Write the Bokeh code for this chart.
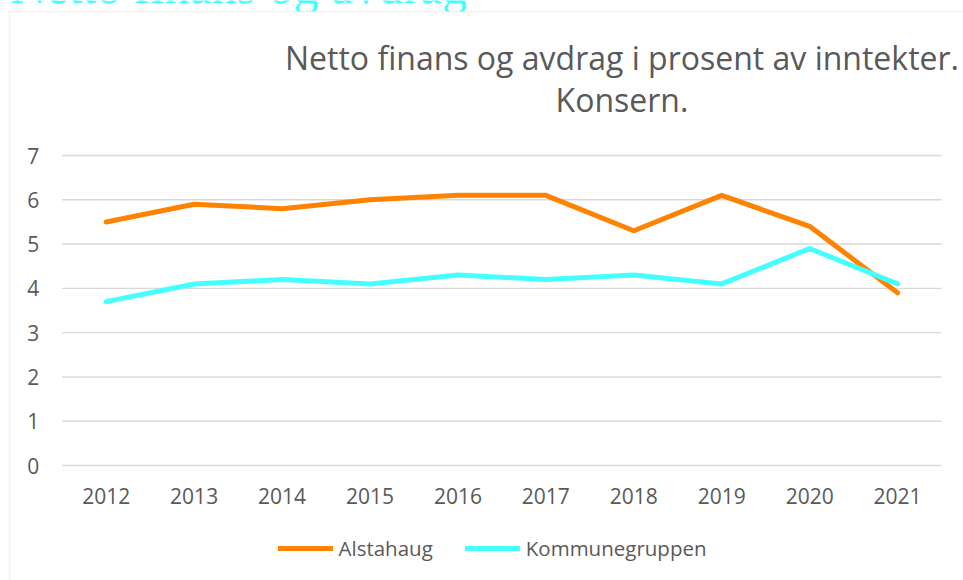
from bokeh.plotting import figure
from bokeh.models import Range1d, FixedTicker, Label, Legend, LegendItem, BoxAnnotation
from bokeh.embed import file_html
from bokeh.resources import INLINE

years = [2012, 2013, 2014, 2015, 2016, 2017, 2018, 2019, 2020, 2021]
alstahaug = [5.5, 5.9, 5.8, 6.0, 6.1, 6.1, 5.3, 6.1, 5.4, 3.9]
kommunegruppen = [3.7, 4.1, 4.2, 4.1, 4.3, 4.2, 4.3, 4.1, 4.9, 4.1]
y_ticks = [0, 1, 2, 3, 4, 5, 6, 7]
title_lines = ["Netto finans og avdrag i prosent av inntekter.", "Konsern."]
heading = "Netto finans og avdrag"

ORANGE = "#FF8200"
CYAN = "#45FFFF"
GREY_TEXT = "#595959"
GRID = "#D9D9D9"
FONT = "Open Sans"

W, H = 963, 580
ZERO_PX = 465      # pixel row of value 0
PX_Y = 44.2857     # pixels per unit
PX_X = 87.93       # pixels per year
X0_PX = 105.7      # pixel column of first year

# the frame covers the whole canvas; axes are pinned to the plot-area edges
y_range = Range1d(-(H - ZERO_PX) / PX_Y, ZERO_PX / PX_Y)
x_range = Range1d(years[0] - X0_PX / PX_X, years[0] + (W - X0_PX) / PX_X)

p = figure(width=W, height=H, output_backend="svg", toolbar_location=None,
           x_range=x_range, y_range=y_range,
           min_border_left=0, min_border_right=0, min_border_top=0, min_border_bottom=0)
p.outline_line_color = None
p.background_fill_color = "white"
p.border_fill_color = "white"
p.xgrid.visible = False
p.ygrid.visible = False

for ax in (p.xaxis[0], p.yaxis[0]):
    ax.axis_line_color = None
    ax.major_tick_line_color = None
    ax.minor_tick_line_color = None
    ax.major_tick_out = 0
    ax.major_tick_in = 0
    ax.minor_tick_out = 0
    ax.major_label_text_font = FONT
    ax.major_label_text_font_size = "21px"
    ax.major_label_text_color = GREY_TEXT
p.xaxis.ticker = FixedTicker(ticks=years)
p.xaxis.fixed_location = y_ticks[0]
p.xaxis.major_label_standoff = 22
p.yaxis.ticker = FixedTicker(ticks=y_ticks)
p.yaxis.fixed_location = years[0] - 0.5
p.yaxis.major_label_standoff = 23

# cut-off heading above the chart, covered by the chart area from y=11 down
p.add_layout(Label(x=10, y=H + 15, x_units="screen", y_units="screen", text=heading,
                   text_align="left", text_baseline="alphabetic", text_font="Liberation Serif",
                   text_font_size="50px", text_color="#40FFFF", level="underlay"))
p.add_layout(BoxAnnotation(left=9, right=3000, top=H - 11, bottom=-200,
                           left_units="screen", right_units="screen",
                           top_units="screen", bottom_units="screen",
                           fill_color="white", fill_alpha=1, line_color=GRID, line_width=2,
                           level="underlay"))

# horizontal gridlines spanning the category area
gx0 = [years[0] - 0.5] * len(y_ticks)
gx1 = [years[-1] + 0.5] * len(y_ticks)
p.segment(x0=gx0, y0=y_ticks, x1=gx1, y1=y_ticks, line_color=GRID, line_width=1.4)

r1 = p.line(years, alstahaug, line_color=ORANGE, line_width=5, line_cap="round", line_join="round")
r2 = p.line(years, kommunegruppen, line_color=CYAN, line_width=5, line_cap="round", line_join="round")

# title (two centred lines)
p.add_layout(Label(x=621.5, y=H - 57, x_units="screen", y_units="screen", text=title_lines[0],
                   text_align="center", text_baseline="alphabetic", text_font=FONT,
                   text_font_size="32px", text_color=GREY_TEXT))
p.add_layout(Label(x=621.5, y=H - 99, x_units="screen", y_units="screen", text=title_lines[1],
                   text_align="center", text_baseline="alphabetic", text_font=FONT,
                   text_font_size="32px", text_color=GREY_TEXT))

legend = Legend(items=[LegendItem(label="Alstahaug", renderers=[r1]),
                       LegendItem(label="Kommunegruppen", renderers=[r2])],
                orientation="horizontal", location=(277.5, 18),
                glyph_width=55, glyph_height=20, label_height=20, label_standoff=6,
                spacing=32, padding=0, margin=0, border_line_color=None,
                background_fill_alpha=0,
                label_text_font=FONT, label_text_font_size="20.5px", label_text_color=GREY_TEXT)
p.add_layout(legend)

open("out.html", "w").write(file_html(p, INLINE))
